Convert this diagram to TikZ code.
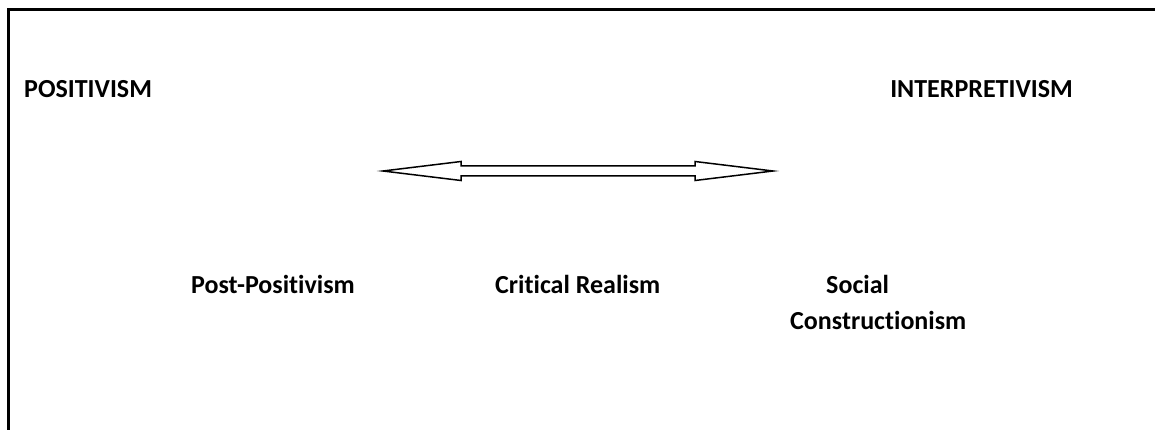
\documentclass[tikz,border=0pt]{standalone}
\usepackage{fontspec}
\setmainfont[Ligatures=NoCommon]{Carlito}
\usetikzlibrary{calc}
\begin{document}
\begin{tikzpicture}[x=1pt,y=-1pt,
    label text/.style={anchor=base west,inner sep=0pt,font=\fontsize{26}{31}\selectfont\bfseries}]
  \useasboundingbox (0,0) rectangle (1155,430);
  \draw[line width=3pt] (8,430) |- (1155,10);
  % paradigms at either end
  \node[label text] (pos) at (24,98) {POSITIVISM};
  \node[label text,anchor=base east] (interp) at (1073,98) {INTERPRETIVISM};
  % the continuum
  \coordinate (lefttip) at (383,171);
  \coordinate (righttip) at (773,171);
  \draw[line width=1.5pt,line join=miter]
    (lefttip) -- ++(78,-9.5) -- ++(0,4.5) -- ($(righttip)+(-78,-5)$)
    -- ++(0,-4.5) -- (righttip) -- ++(-78,9.5) -- ++(0,-4.5)
    -- ($(lefttip)+(78,5)$) -- ++(0,4.5) -- cycle;
  % positions along it
  \node[label text] (postpos) at (191,293) {Post-Positivism};
  \node[label text] (critreal) at (495,293) {Critical Realism};
  \node[label text] (social) at (826,293) {Social};
  \node[label text] (constr) at (790,329) {Constructionism};
\end{tikzpicture}
\end{document}
